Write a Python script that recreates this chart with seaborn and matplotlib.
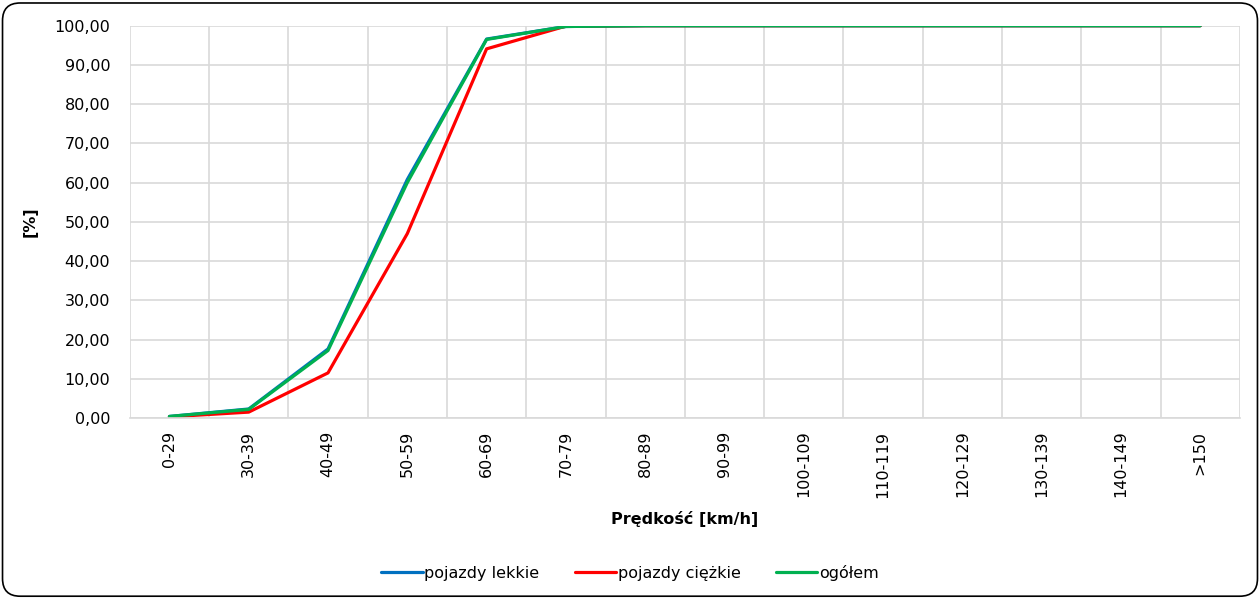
import pandas as pd
import matplotlib.pyplot as plt
import seaborn as sns
from matplotlib.patches import FancyBboxPatch
from matplotlib.ticker import FuncFormatter, FixedLocator

# data
speed_bins = ['0-29', '30-39', '40-49', '50-59', '60-69', '70-79', '80-89', '90-99',
              '100-109', '110-119', '120-129', '130-139', '140-149', '>150']
light = [0.4, 2.3, 17.6, 60.8, 96.6, 99.8, 100, 100, 100, 100, 100, 100, 100, 100]
heavy = [0.3, 1.5, 11.5, 47.0, 94.1, 99.9, 100, 100, 100, 100, 100, 100, 100, 100]
total = [0.4, 2.2, 17.2, 60.0, 96.5, 99.8, 100, 100, 100, 100, 100, 100, 100, 100]

series_names = ['pojazdy lekkie', 'pojazdy ciężkie', 'ogółem']
colors = ['#0070C0', '#FF0000', '#00B050']

rows = []
for name, vals in zip(series_names, [light, heavy, total]):
    for i, v in enumerate(vals):
        rows.append({'pos': i, 'bin': speed_bins[i], 'value': v, 'series': name})
df = pd.DataFrame(rows)

sns.set_style('white')
plt.rcParams['font.family'] = ['DejaVu Sans']
plt.rcParams['text.color'] = 'black'
plt.rcParams['axes.labelcolor'] = 'black'
plt.rcParams['xtick.color'] = 'black'
plt.rcParams['ytick.color'] = 'black'

fig = plt.figure(figsize=(12.6, 5.98), dpi=100)
ax = fig.add_axes([0.103, 0.301, 0.881, 0.656])

sns.lineplot(data=df, x='pos', y='value', hue='series', hue_order=series_names,
             palette=colors, linewidth=2.3, ax=ax, legend=True)

ax.set_xlim(-0.5, len(speed_bins) - 0.5)
ax.set_ylim(0, 100)
ax.set_yticks(range(0, 101, 10))
ax.yaxis.set_major_formatter(FuncFormatter(lambda v, p: f'{v:.2f}'.replace('.', ',')))
ax.set_xticks(range(len(speed_bins)))
ax.set_xticklabels(speed_bins, rotation=90)
ax.xaxis.set_minor_locator(FixedLocator([i + 0.5 for i in range(-1, len(speed_bins))]))

ax.grid(True, axis='y', color='#D9D9D9', linewidth=1.2)
ax.grid(True, axis='x', which='minor', color='#D9D9D9', linewidth=1.2)
ax.set_axisbelow(True)
for side in ['top', 'right', 'left']:
    ax.spines[side].set_visible(False)
ax.spines['bottom'].set_color('#D9D9D9')
ax.spines['bottom'].set_linewidth(1.2)

ax.tick_params(axis='y', length=0, labelsize=11.5, pad=14)
ax.tick_params(axis='x', which='major', length=0, labelsize=11.5, pad=9)
ax.tick_params(axis='x', which='minor', length=5, color='#D9D9D9', width=1.2)

ax.set_xlabel('Prędkość [km/h]', fontsize=11.5, fontweight='bold', labelpad=10)
ax.set_ylabel('[%]', fontsize=11.5, fontweight='bold', labelpad=12)

handles, labels = ax.get_legend_handles_labels()
ax.legend(handles, labels, loc='center', bbox_to_anchor=(0.5, 0.042),
          bbox_transform=fig.transFigure, ncol=3, frameon=False, fontsize=11.5,
          handlelength=2.6, handletextpad=0.1, columnspacing=2.2)

border = FancyBboxPatch((0.002, 0.003), 0.996, 0.992, boxstyle='round,pad=0,rounding_size=0.014',
                        transform=fig.transFigure, fill=False, edgecolor='black',
                        linewidth=1.2, mutation_aspect=1260 / 598)
fig.patches.append(border)

fig.savefig('out.png', dpi=100)
